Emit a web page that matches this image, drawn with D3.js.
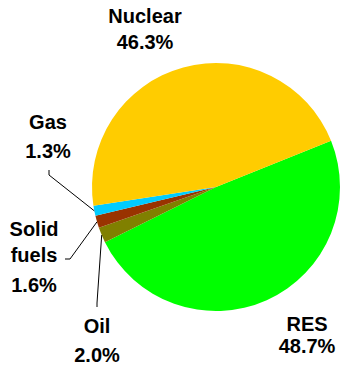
<!DOCTYPE html>
<html>
<head>
<meta charset="utf-8">
<script src="https://cdn.jsdelivr.net/npm/d3@7"></script>
<style>
  html, body { margin: 0; padding: 0; background: #fff; }
  svg { display: block; }
  text { font-family: "Liberation Sans", Arial, sans-serif; font-weight: bold; font-size: 20px; fill: #000; }
</style>
</head>
<body>
<svg id="chart" width="340" height="365"></svg>
<script>
// Electricity generation mix, shares in percent
const sources = ["RES", "Oil", "Solid fuels", "Gas", "Nuclear"];
const shares  = [48.7, 2.0, 1.6, 1.3, 46.3];
const colors  = ["#00FF00", "#808000", "#993300", "#00CCFF", "#FFCC00"];

// Label placement: text lines (centre x, baselines) and optional leader-line start
const labelLayout = {
  "RES":         { x: 307, lines: [["RES"], 331, 353] },
  "Oil":         { x: 97,  lines: [["Oil"], 333, 361.5], leader: [[97, 307], [97, 303]] },
  "Solid fuels": { x: 34,  lines: [["Solid", "fuels"], 236, 262, 292], leader: [[65, 259], [70, 259]] },
  "Gas":         { x: 48,  lines: [["Gas"], 129, 158], leader: [[49, 170], [49, 175]] },
  "Nuclear":     { x: 145, lines: [["Nuclear"], 23, 48.5] }
};

const cx = 216, cy = 187, radius = 124;
const startDeg = 68.1;

const data = sources.map((s, i) => ({ name: s, value: shares[i], color: colors[i] }));

const pie = d3.pie()
  .sort(null)
  .value(d => d.value)
  .startAngle(startDeg * Math.PI / 180)
  .endAngle(startDeg * Math.PI / 180 + 2 * Math.PI);

const arc = d3.arc().innerRadius(0).outerRadius(radius);

const svg = d3.select("#chart");
const g = svg.append("g").attr("transform", `translate(${cx},${cy})`);

const arcs = pie(data);

g.selectAll("path.slice")
  .data(arcs)
  .join("path")
  .attr("class", "slice")
  .attr("d", arc)
  .attr("fill", d => d.data.color);

// Leader lines from the small-slice labels to the rim
arcs.forEach(a => {
  const lay = labelLayout[a.data.name];
  if (!lay.leader) return;
  const mid = (a.startAngle + a.endAngle) / 2;
  const rim = [cx + radius * Math.sin(mid), cy - radius * Math.cos(mid)];
  const pts = lay.leader.concat([rim]);
  svg.append("path")
    .attr("d", d3.line()(pts))
    .attr("fill", "none")
    .attr("stroke", "#000")
    .attr("stroke-width", 1);
});

// Category names and percentages
arcs.forEach(a => {
  const lay = labelLayout[a.data.name];
  const words = lay.lines[0];
  const baselines = lay.lines.slice(1);
  const texts = words.concat([a.data.value.toFixed(1) + "%"]);
  texts.forEach((t, i) => {
    svg.append("text")
      .attr("x", lay.x)
      .attr("y", baselines[i])
      .attr("text-anchor", "middle")
      .text(t);
  });
});
</script>
</body>
</html>
